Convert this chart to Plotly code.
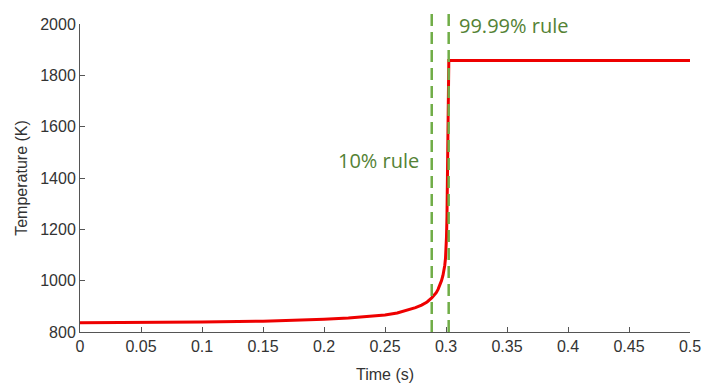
import plotly.graph_objects as go

# Data
time_s = [0.0, 0.05, 0.10, 0.15, 0.18, 0.20, 0.22, 0.24, 0.25, 0.26, 0.265,
          0.27, 0.275, 0.28, 0.2845, 0.2883, 0.2905, 0.292, 0.2935, 0.295,
          0.2963, 0.2975, 0.2983, 0.299, 0.2996, 0.300, 0.3004, 0.3008,
          0.3013, 0.3017, 0.3020, 0.3023, 0.35, 0.40, 0.45, 0.50]
temperature_k = [836, 837, 839, 842, 846, 850, 855, 861, 866, 874, 880,
                 887, 895, 905, 917, 933, 943, 953, 966, 983,
                 1000, 1020, 1038, 1060, 1088, 1120, 1170, 1250,
                 1450, 1700, 1845, 1858, 1858, 1858, 1858, 1858]

rule_times = [0.2883, 0.3022]
rule_labels = ["10% rule", "99.99% rule"]

x_ticks = [0, 0.05, 0.1, 0.15, 0.2, 0.25, 0.3, 0.35, 0.4, 0.45, 0.5]
x_tick_text = ["0", "0.05", "0.1", "0.15", "0.2", "0.25", "0.3", "0.35", "0.4", "0.45", "0.5"]
y_ticks = [800, 1000, 1200, 1400, 1600, 1800, 2000]

fig = go.Figure()
fig.add_trace(go.Scatter(x=time_s, y=temperature_k, mode="lines",
                         line=dict(color="#ee0000", width=3),
                         showlegend=False))

for t in rule_times:
    fig.add_shape(type="line", xref="x", yref="paper", x0=t, x1=t, y0=0, y1=1.062,
                  line=dict(color="#70AD47", width=2.5, dash="12px,6px"))

fig.add_annotation(x=rule_times[0], xref="x", xanchor="right", xshift=-11,
                   y=1470, yref="y", text=rule_labels[0], showarrow=False,
                   font=dict(family="Open Sans", size=20, color="#548235"))
fig.add_annotation(x=rule_times[1], xref="x", xanchor="left", xshift=8,
                   y=1996, yref="y", text=rule_labels[1], showarrow=False,
                   font=dict(family="Open Sans", size=20, color="#548235"))

axis_font = dict(family="Liberation Sans, Arial", size=16, color="#333333")
fig.update_xaxes(range=[0, 0.5], tickvals=x_ticks, ticktext=x_tick_text,
                 ticks="inside", ticklen=5, tickcolor="#555555",
                 showline=True, linecolor="#555555", linewidth=1,
                 showgrid=False, zeroline=False, tickfont=axis_font, automargin=False,
                 title=dict(text="Time (s)", font=axis_font, standoff=14))
fig.update_yaxes(range=[800, 2000], tickvals=y_ticks,
                 ticks="inside", ticklen=5, tickcolor="#555555",
                 showline=True, linecolor="#555555", linewidth=1,
                 showgrid=False, zeroline=False, tickfont=axis_font, automargin=False,
                 title=dict(text="Temperature (K)", font=axis_font, standoff=8))

# page body has an 8px margin, so the figure is made 8px smaller and shifted
fig.update_layout(width=704, height=379, plot_bgcolor="white", paper_bgcolor="white",
                  margin=dict(l=72, r=22, t=16, b=55))

fig.write_html("out.html")
